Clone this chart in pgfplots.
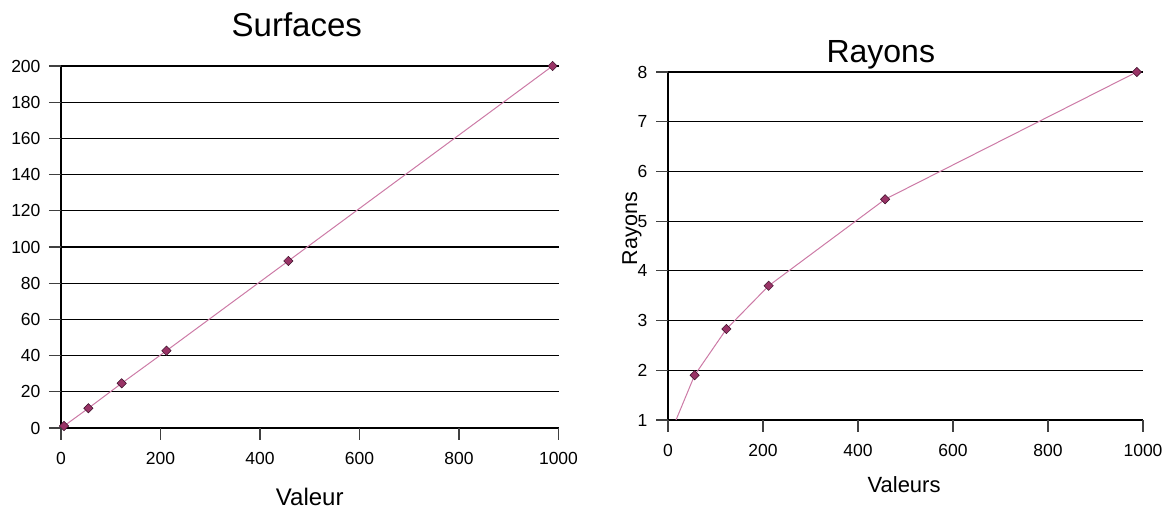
\documentclass[border=0pt]{standalone}
\usepackage{fontspec}
\setmainfont{Liberation Sans}
\usepackage{pgfplots}
\pgfplotsset{compat=1.18}
\usetikzlibrary{calc}
\definecolor{linec}{HTML}{CC7AA6}
\definecolor{markf}{HTML}{993366}
\definecolor{markd}{HTML}{3A1028}
\definecolor{tickc}{HTML}{404040}
\pgfplotsset{
  excelstyle/.style={
    scale only axis,
    axis x line*=bottom, axis y line*=left,
    axis line style={line width=2pt, black},
    ymajorgrids,
    grid style={line width=1.2pt, black},
    tick align=outside,
    major tick length=12pt,
    tick style={line width=1.2pt, tickc},
    /pgf/number format/assume math mode=true,
    /pgf/number format/1000 sep={},
    tick label style={font=\fontsize{17.5}{20}\selectfont},
    xticklabel style={yshift=-9pt},
    yticklabel style={xshift=-5pt},
    xmin=0, xmax=1000,
    xtick={0,200,400,600,800,1000},
    clip marker paths=false,
  },
  datastyle/.style={
    color=linec, line width=1pt,
    mark=square*, mark size=3.3pt,
    mark options={rotate=45, fill=markf, draw=markd, line width=0.5pt},
  },
}
\begin{document}
\begin{tikzpicture}
\useasboundingbox (0pt,0pt) rectangle (1170pt,510pt);
% Left chart
\begin{axis}[excelstyle,
  at={(61pt,82pt)}, anchor=south west,
  width=497.5pt, height=362pt,
  ymin=0, ymax=200, ytick={0,20,...,200},
  title={Surfaces},
  title style={at={(axis description cs:0.474,1)}, anchor=center, yshift=35pt, font=\fontsize{33}{36}\selectfont},
  xlabel={Valeur},
  xlabel style={at={(axis description cs:0.5,0)}, anchor=center, yshift=-69pt, font=\fontsize{24}{26}\selectfont},
]
\addplot[datastyle] coordinates {
(6,1.1) (55,10.9) (122,24.7) (212,42.7) (457,92.3) (988,200)
};
\coordinate (LO) at (axis cs:0,0);
\coordinate (LX) at (axis cs:1000,0);
\coordinate (LY) at (axis cs:0,200);
\end{axis}
% Right chart
\begin{axis}[excelstyle,
  at={(668pt,90pt)}, anchor=south west,
  width=475pt, height=348pt,
  ymin=1, ymax=8, ytick={1,2,...,8},
  title={Rayons},
  title style={at={(axis description cs:0.448,1)}, anchor=center, yshift=11pt, font=\fontsize{32}{35}\selectfont},
  xlabel={Valeurs},
  xlabel style={at={(axis description cs:0.497,0)}, anchor=center, yshift=-65pt, font=\fontsize{22}{24}\selectfont},
  ylabel={Rayons},
  ylabel style={at={(axis description cs:-0.0758,0.55)}, anchor=center, font=\fontsize{21.5}{23}\selectfont},
]
\addplot[datastyle, mark indices={1,2,3,4,5}] coordinates {
(6,0.75) (56,1.9) (123,2.83) (212,3.70) (457,5.44) (987,8)
};
\coordinate (RO) at (axis cs:0,1);
\coordinate (RX) at (axis cs:1000,1);
\coordinate (RY) at (axis cs:0,8);
\end{axis}
% tick marks (axis furniture), placed from the axes' own corners
\foreach \i in {0,...,5}{
  \draw[line width=1.2pt, tickc] ($(LO)!\i/5!(LX)$) -- ++(0,-12pt);
  \draw[line width=1.2pt, tickc] ($(RO)!\i/5!(RX)$) -- ++(0,-12pt);
}
\foreach \i in {0,...,10}{
  \draw[line width=1.2pt, tickc] ($(LO)!\i/10!(LY)$) -- ++(-12pt,0);
}
\foreach \i in {0,...,7}{
  \draw[line width=1.2pt, tickc] ($(RO)!\i/7!(RY)$) -- ++(-12pt,0);
}
\end{tikzpicture}
\end{document}
